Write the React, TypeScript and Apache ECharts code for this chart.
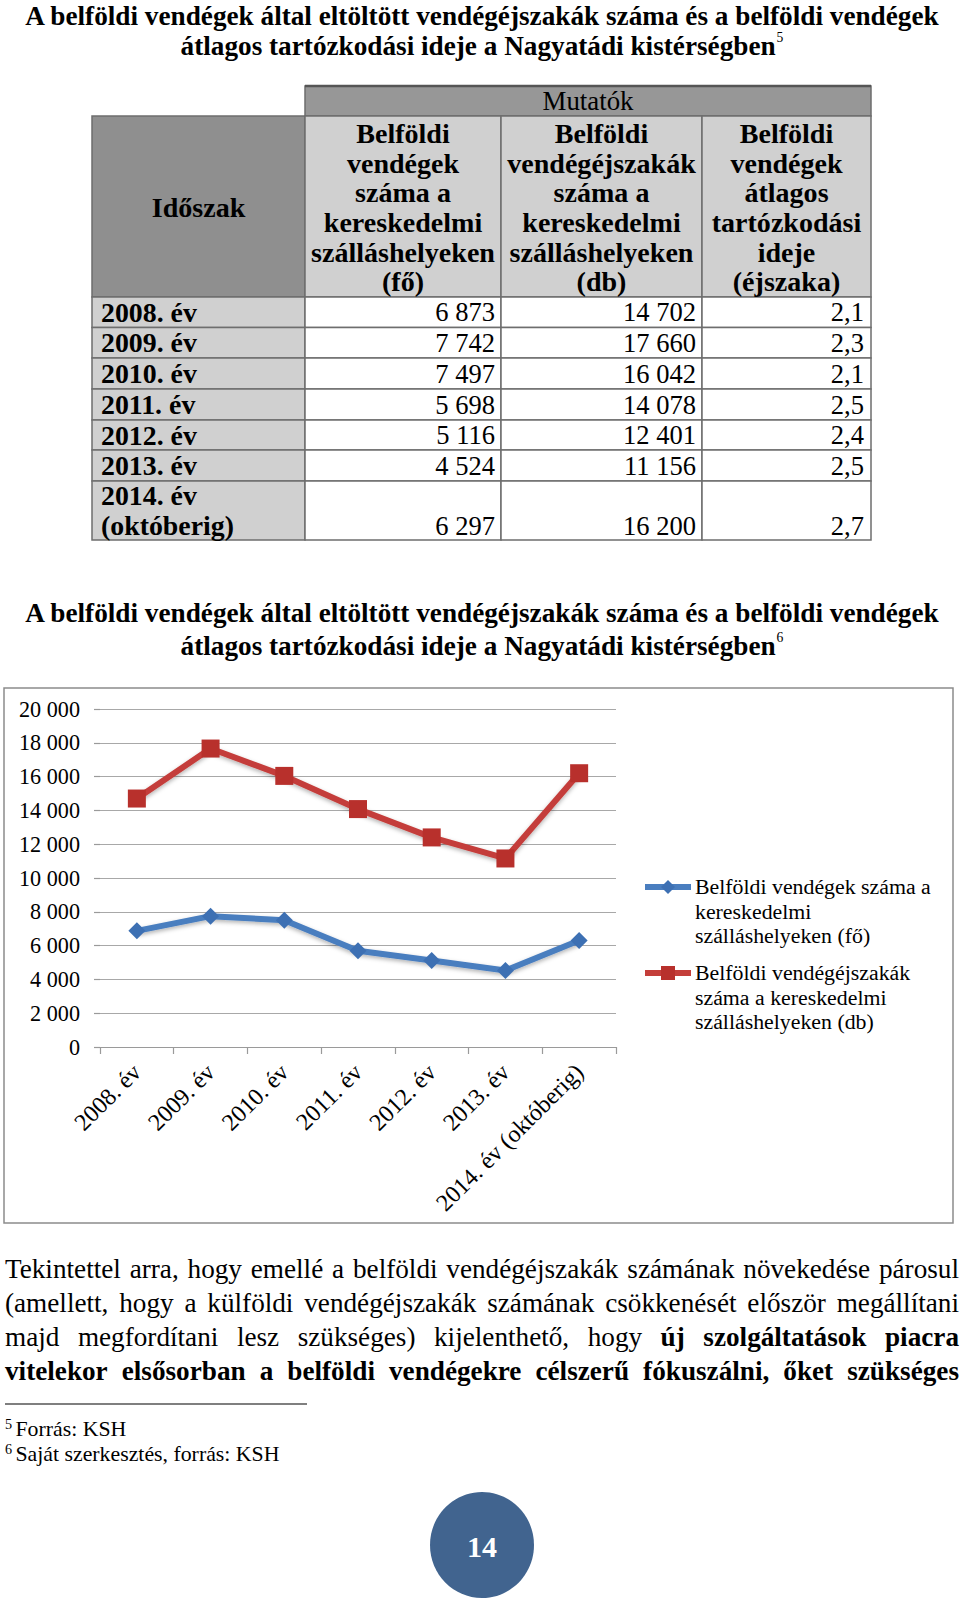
import React, { useEffect, useRef } from 'react';
import * as echarts from 'echarts';

// ---------- data ----------
const periods = ['2008. év', '2009. év', '2010. év', '2011. év', '2012. év', '2013. év', '2014. év (októberig)'];
const guests = [6873, 7742, 7497, 5698, 5116, 4524, 6297];
const nights = [14702, 17660, 16042, 14078, 12401, 11156, 16200];
const avgStay = [2.1, 2.3, 2.1, 2.5, 2.4, 2.5, 2.7];
const yMin = 0;
const yMax = 20000;
const yStep = 2000;

const seriesNames = [
  'Belföldi vendégek száma a kereskedelmi szálláshelyeken (fő)',
  'Belföldi vendégéjszakák száma a kereskedelmi szálláshelyeken (db)',
];
const legendLines = [
  ['Belföldi vendégek száma a', 'kereskedelmi', 'szálláshelyeken (fő)'],
  ['Belföldi vendégéjszakák', 'száma a kereskedelmi', 'szálláshelyeken (db)'],
];
const titleLines = [
  'A belföldi vendégek által eltöltött vendégéjszakák száma és a belföldi vendégek',
  'átlagos tartózkodási ideje a Nagyatádi kistérségben',
];
const tableCorner = 'Időszak';
const tableGroup = 'Mutatók';
const headerCols = [
  ['Belföldi', 'vendégek', 'száma a', 'kereskedelmi', 'szálláshelyeken', '(fő)'],
  ['Belföldi', 'vendégéjszakák', 'száma a', 'kereskedelmi', 'szálláshelyeken', '(db)'],
  ['Belföldi', 'vendégek', 'átlagos', 'tartózkodási', 'ideje', '(éjszaka)'],
];
const paragraphLines: [string, boolean][][] = [
  [['Tekintettel arra, hogy emellé a belföldi vendégéjszakák számának növekedése párosul', false]],
  [['(amellett, hogy a külföldi vendégéjszakák számának csökkenését először megállítani', false]],
  [['majd megfordítani lesz szükséges) kijelenthető, hogy', false], ['új szolgáltatások piacra', true]],
  [['vitelekor elsősorban a belföldi vendégekre célszerű fókuszálni, őket szükséges', true]],
];
const footnotes = [
  ['5', 'Forrás: KSH'],
  ['6', 'Saját szerkesztés, forrás: KSH'],
];
const pageNumber = '14';

const colors = ['#4a7ebf', '#c43e3a'];
const markerColors = ['#3d70b3', '#b8302c'];

// ---------- helpers ----------
const FF = '"Liberation Serif", "Times New Roman", serif';
const fmtInt = (n: number) => String(n).replace(/\B(?=(\d{3})+(?!\d))/g, ' ');
const fmtDec = (n: number) => n.toFixed(1).replace('.', ',');

export default function App() {
  const ref = useRef<HTMLDivElement>(null);

  useEffect(() => {
    const el = ref.current!;
    const chart = echarts.init(el, undefined, { renderer: 'svg', width: 960, height: 1605 });

    const ctx = document.createElement('canvas').getContext('2d')!;
    const tw = (t: string, s: number, b = false) => {
      ctx.font = `${b ? 'bold ' : ''}${s}px ${FF}`;
      return ctx.measureText(t).width;
    };
    const fit = (t: string, target: number, b = false) => (100 * target) / tw(t, 100, b);

    const G: any[] = [];
    const txt = (
      text: string,
      x: number,
      y: number,
      size: number,
      o: { bold?: boolean; color?: string; align?: string; va?: string } = {}
    ) => {
      G.push({
        type: 'text',
        x,
        y,
        silent: true,
        z: 20,
        style: {
          text,
          fontSize: size,
          fontFamily: FF,
          fontWeight: o.bold ? 'bold' : 'normal',
          fill: o.color || '#000',
          textAlign: o.align || 'left',
          textVerticalAlign: o.va || 'middle',
          align: o.align || 'left',
          verticalAlign: o.va || 'middle',
        },
      });
    };
    const rect = (x: number, y: number, w: number, h: number, fill: string, stroke = '#6e6e6e', lw = 1.5) => {
      G.push({ type: 'rect', silent: true, z: 5, shape: { x, y, width: w, height: h }, style: { fill, stroke, lineWidth: lw } });
    };
    const line = (x1: number, y1: number, x2: number, y2: number, stroke: string, lw: number, z = 6) => {
      G.push({ type: 'line', silent: true, z, shape: { x1, y1, x2, y2 }, style: { stroke, lineWidth: lw } });
    };

    // ---------- titles ----------
    const titleSize = fit(titleLines[0], 915, true);
    const drawTitle = (y1: number, y2: number, sup: string) => {
      const cx = 482;
      txt(titleLines[0], cx, y1, titleSize, { bold: true, align: 'center' });
      const w2 = tw(titleLines[1], titleSize, true);
      const supSize = titleSize * 0.5;
      const supW = tw(sup, supSize);
      const start = cx - (w2 + supW + 1) / 2;
      txt(titleLines[1], start, y2, titleSize, { bold: true });
      txt(sup, start + w2 + 1, y2 - titleSize * 0.32, supSize);
    };
    drawTitle(15.5, 46, '5');
    drawTitle(613, 646, '6');

    // ---------- table ----------
    const colX = [92, 305, 501, 702, 871];
    const mutTop = 86;
    const headTop = 116;
    const rowY = [297, 327.5, 358, 389, 420, 450, 481, 540];
    rect(colX[1], mutTop, colX[4] - colX[1], headTop - mutTop, '#979797');
    line(colX[1], mutTop, colX[4], mutTop, '#555', 2.5, 7);
    rect(colX[0], headTop, colX[1] - colX[0], rowY[0] - headTop, '#8f8f8f');
    for (let c = 0; c < 3; c++) rect(colX[c + 1], headTop, colX[c + 2] - colX[c + 1], rowY[0] - headTop, '#d0d0d0');
    for (let r = 0; r < periods.length; r++) {
      rect(colX[0], rowY[r], colX[1] - colX[0], rowY[r + 1] - rowY[r], '#d0d0d0');
      for (let c = 0; c < 3; c++) rect(colX[c + 1], rowY[r], colX[c + 2] - colX[c + 1], rowY[r + 1] - rowY[r], '#ffffff');
    }
    const mutSize = fit(tableGroup, 91);
    txt(tableGroup, (colX[1] + colX[4]) / 2, 101, mutSize, { align: 'center' });
    const headSize = fit('szálláshelyeken', 184, true);
    txt(tableCorner, (colX[0] + colX[1]) / 2, 207, headSize, { bold: true, align: 'center' });
    const headLineY = [133, 163, 192.5, 222, 252, 281.5];
    headerCols.forEach((lines, c) => {
      const cx = (colX[c + 1] + colX[c + 2]) / 2;
      lines.forEach((l, j) => txt(l, cx, headLineY[j], headSize, { bold: true, align: 'center' }));
    });
    const labSize = fit('(októberig)', 133, true);
    const valSize = fit('14 702', 73);
    const valRight = [495, 696, 864];
    periods.forEach((p, r) => {
      const parts = p.split(' (');
      const mid = (rowY[r] + rowY[r + 1]) / 2;
      let lastY = mid;
      if (parts.length > 1) {
        txt(parts[0], 101, mid - 15, labSize, { bold: true });
        txt('(' + parts[1], 101, mid + 15, labSize, { bold: true });
        lastY = mid + 15;
      } else {
        txt(p, 101, mid, labSize, { bold: true });
      }
      txt(fmtInt(guests[r]), valRight[0], lastY, valSize, { align: 'right' });
      txt(fmtInt(nights[r]), valRight[1], lastY, valSize, { align: 'right' });
      txt(fmtDec(avgStay[r]), valRight[2], lastY, valSize, { align: 'right' });
    });

    // ---------- chart frame + legend ----------
    G.push({ type: 'rect', silent: true, z: 1, shape: { x: 4, y: 688, width: 949, height: 535 }, style: { fill: 'none', stroke: '#8c8c8c', lineWidth: 1.5 } });
    const legSize = fit(legendLines[0][0], 236);
    const legY = [887, 973];
    legendLines.forEach((lines, k) => {
      const y0 = legY[k];
      line(645, y0, 691, y0, colors[k], 6, 20);
      if (k === 0) {
        G.push({ type: 'polygon', silent: true, z: 21, shape: { points: [[668, y0 - 7], [675, y0], [668, y0 + 7], [661, y0]] }, style: { fill: markerColors[k] } });
      } else {
        G.push({ type: 'rect', silent: true, z: 21, shape: { x: 661, y: y0 - 7, width: 14, height: 14 }, style: { fill: markerColors[k] } });
      }
      lines.forEach((l, j) => txt(l, 695, y0 + j * 24.6, legSize));
    });

    // ---------- paragraph ----------
    const pW = 954;
    const pX = 5;
    const paraSize = fit(paragraphLines[0][0][0], 936);
    const paraY = [1269, 1303, 1337, 1370.5];
    paragraphLines.forEach((segs, i) => {
      const words: { w: string; b: boolean }[] = [];
      segs.forEach(([t, b]) => t.split(' ').forEach((w) => words.push({ w, b })));
      const widths = words.map((o) => tw(o.w, paraSize, o.b));
      const sum = widths.reduce((a, b) => a + b, 0);
      const gap = (pW - sum) / (words.length - 1);
      let x = pX;
      words.forEach((o, j) => {
        txt(o.w, x, paraY[i], paraSize, { bold: o.b });
        x += widths[j] + gap;
      });
    });

    // ---------- footnotes ----------
    line(5, 1404, 307, 1404, '#000', 1.2);
    const fnSize = fit(footnotes[1][1], 264);
    const fnY = [1429, 1454];
    footnotes.forEach(([n, t], i) => {
      txt(n, 5, fnY[i] - 5, fnSize * 0.65);
      txt(t, 15.5, fnY[i], fnSize);
    });

    // ---------- page number ----------
    G.push({ type: 'ellipse', silent: true, z: 5, shape: { cx: 482, cy: 1545, rx: 52, ry: 53 }, style: { fill: '#41648f' } });
    txt(pageNumber, 482, 1546, 30, { bold: true, color: '#ffffff', align: 'center' });

    const option: any = {
      animation: false,
      backgroundColor: '#ffffff',
      grid: { left: 100, top: 709, width: 516, height: 338, containLabel: false, outerBoundsMode: 'none' },
      xAxis: {
        type: 'category',
        data: periods,
        boundaryGap: true,
        axisLine: { show: true, lineStyle: { color: '#9a9a9a', width: 1.2 } },
        axisTick: { show: true, length: 7, lineStyle: { color: '#9a9a9a', width: 1.2 } },
        axisLabel: { interval: 0, rotate: 45, margin: 21, fontSize: 24, fontFamily: FF, color: '#000' },
        splitLine: { show: false },
      },
      yAxis: {
        type: 'value',
        min: yMin,
        max: yMax,
        interval: yStep,
        axisLine: { show: false },
        axisTick: { show: true, length: 6, lineStyle: { color: '#9a9a9a', width: 1.2 } },
        axisLabel: {
          margin: 20,
          fontSize: fit('20 000', 61),
          fontFamily: FF,
          color: '#000',
          formatter: (v: number) => fmtInt(v),
        },
        splitLine: { show: true, lineStyle: { color: '#a8a8a8', width: 1.2 } },
      },
      series: [
        {
          name: seriesNames[0],
          type: 'line',
          data: guests,
          symbol: 'diamond',
          symbolSize: 17,
          itemStyle: { color: markerColors[0] },
          lineStyle: { color: colors[0], width: 6, shadowBlur: 4, shadowColor: 'rgba(0,0,0,0.3)', shadowOffsetY: 2 },
          z: 3,
        },
        {
          name: seriesNames[1],
          type: 'line',
          data: nights,
          symbol: 'rect',
          symbolSize: 18,
          itemStyle: { color: markerColors[1] },
          lineStyle: { color: colors[1], width: 6, shadowBlur: 4, shadowColor: 'rgba(0,0,0,0.3)', shadowOffsetY: 2 },
          z: 4,
        },
      ],
      graphic: { elements: G },
    };
    chart.setOption(option);
    return () => chart.dispose();
  }, []);

  return (
    <div
      ref={ref}
      style={{ position: 'absolute', left: 0, top: 0, width: 960, height: 1605, background: '#ffffff' }}
    />
  );
}
